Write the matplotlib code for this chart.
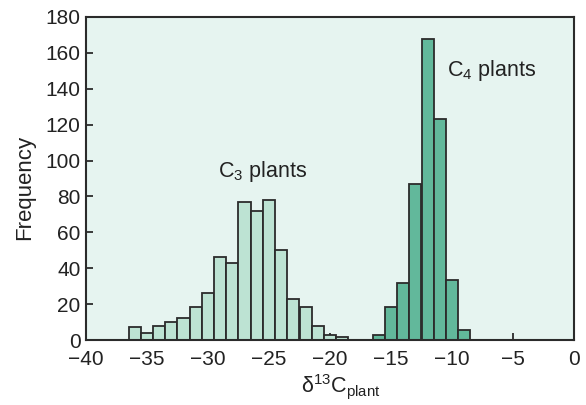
import matplotlib
matplotlib.use("Agg")
import matplotlib.pyplot as plt
import numpy as np

plt.rcParams['font.family'] = ['Liberation Sans', 'DejaVu Sans']
plt.rcParams['mathtext.fontset'] = 'custom'
plt.rcParams['mathtext.rm'] = 'Liberation Sans'
plt.rcParams['mathtext.it'] = 'Liberation Sans'

# C3 plants: bin centers and counts
c3_centers = [-36, -35, -34, -33, -32, -31, -30, -29, -28, -27, -26, -25, -24, -23, -22, -21, -20, -19]
c3_counts = [7, 4, 8, 10, 12.5, 18.6, 26, 46, 43, 77, 72, 78, 50, 23, 18.6, 8, 3, 1.5]

# C4 plants
c4_centers = [-16, -15, -14, -13, -12, -11, -10, -9]
c4_counts = [3, 18.6, 32, 87, 167.5, 123, 33.5, 5.5]

xticks = [-40, -35, -30, -25, -20, -15, -10, -5, 0]
yticks = [0, 20, 40, 60, 80, 100, 120, 140, 160, 180]

W, H = 586, 405
fig = plt.figure(figsize=(W/100, H/100), dpi=100)
ax = fig.add_axes([86/W, 1-340/H, (574-86)/W, (340-17)/H])
ax.set_facecolor('#e6f4f0')

edge = '#2b2b2b'
txt = '#222222'
ax.bar(c3_centers, c3_counts, width=1.0, color='#bde3d3', edgecolor=edge, linewidth=1.3, zorder=2)
ax.bar(c4_centers, c4_counts, width=1.0, color='#62b89b', edgecolor=edge, linewidth=1.3, zorder=2)

ax.set_xlim(-40, 0)
ax.set_ylim(0, 180)
ax.set_xticks(xticks)
ax.set_yticks(yticks)
ax.tick_params(direction='in', length=5, width=1.3, color=edge, labelsize=15,
               labelcolor=txt, top=False, right=False)
ax.tick_params(axis='x', pad=7)
ax.tick_params(axis='y', pad=4)
for s in ax.spines.values():
    s.set_color(edge)
    s.set_linewidth(1.5)
    s.set_zorder(5)
for t in ax.xaxis.get_major_ticks() + ax.yaxis.get_major_ticks():
    t.tick1line.set_zorder(6)

fig.text(25/W, 1-187/H, 'Frequency', rotation=90, fontsize=16, color=txt,
         ha='center', va='center')
fig.text(341/W, 1-372/H, r'δ$^{\mathregular{13}}$C$_{\mathregular{plant}}$', fontsize=15.5,
         color=txt, ha='center', va='top')

ax.text(-29.2, 91, r'C$_{\mathregular{3}}$ plants', fontsize=15.5, color=txt, va='baseline', ha='left')
ax.text(-10.4, 147, r'C$_{\mathregular{4}}$ plants', fontsize=15.5, color=txt, va='baseline', ha='left')

fig.savefig('out.png', dpi=100)
